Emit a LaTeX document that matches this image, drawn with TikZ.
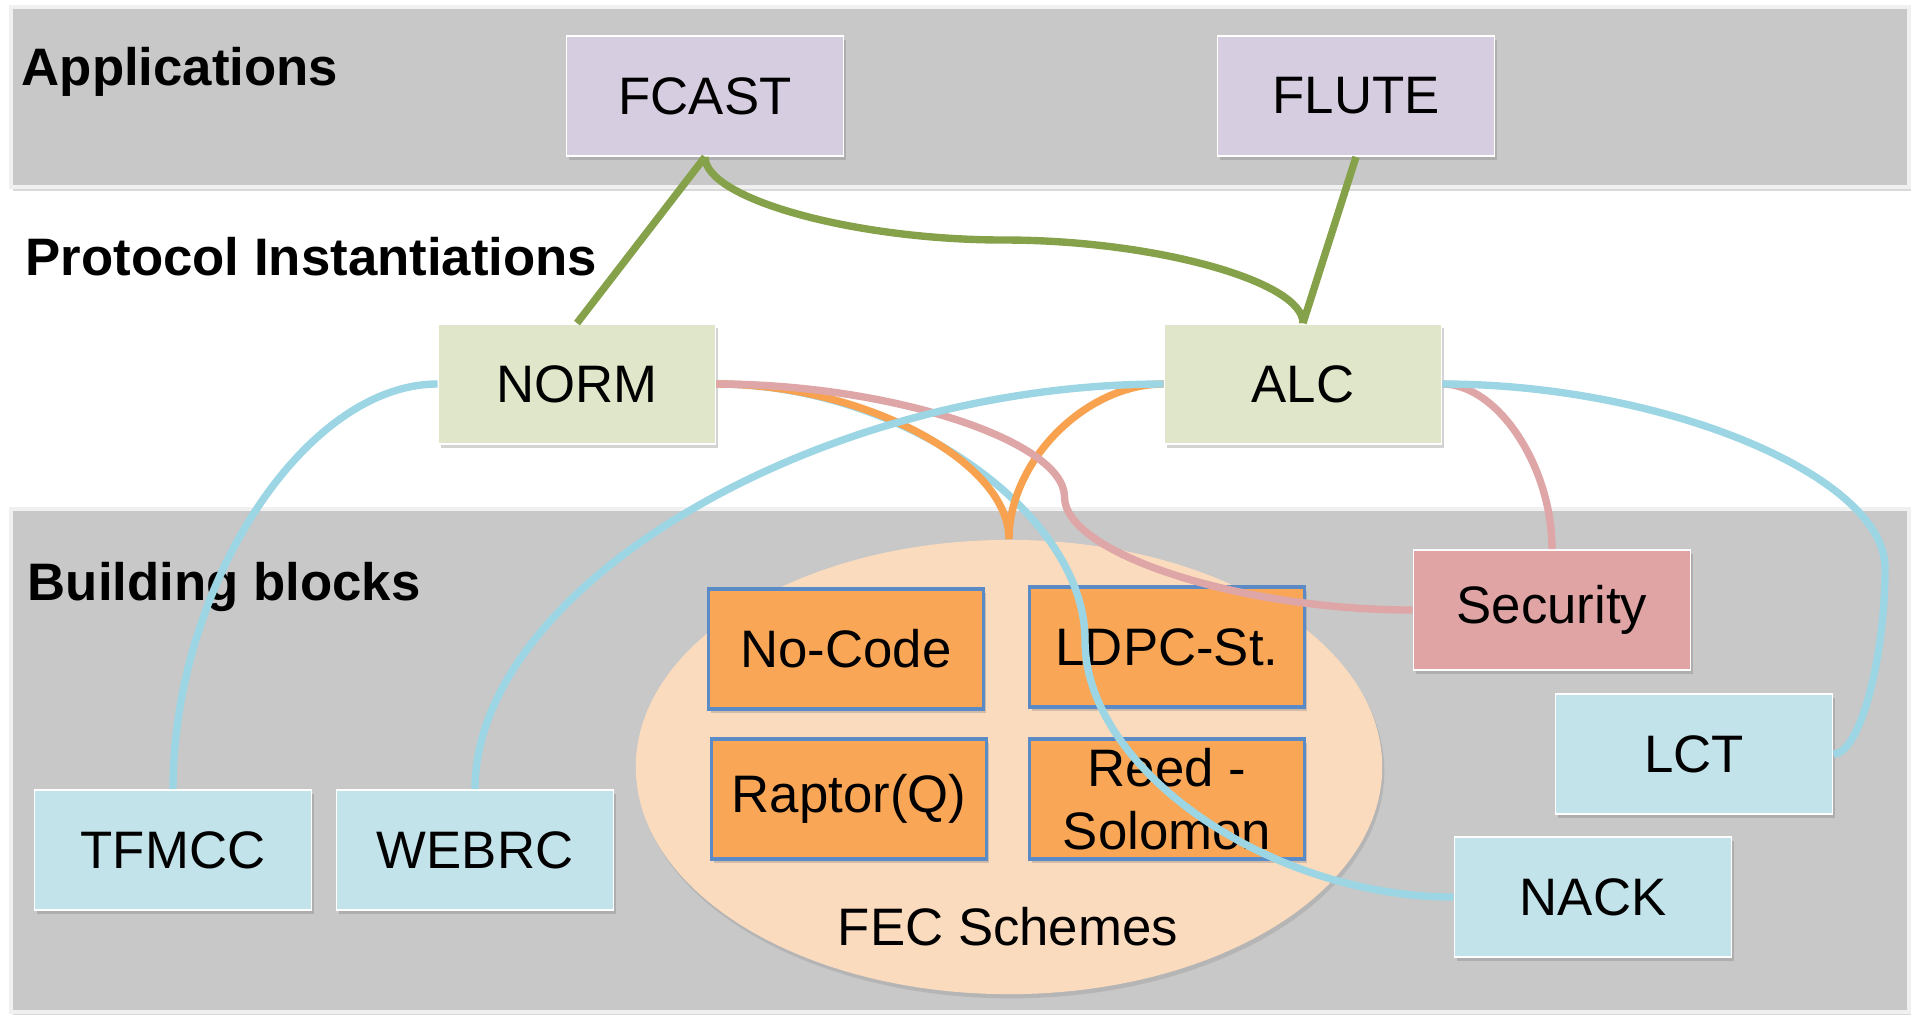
\documentclass[tikz,border=0pt]{standalone}
\usepackage{fontspec}
\setmainfont{Liberation Sans}
\usetikzlibrary{calc,shapes.geometric,shadows}
\definecolor{bandgray}{HTML}{C8C8C8}
\definecolor{appfill}{HTML}{D6CDE1}
\definecolor{protofill}{HTML}{DFE6C9}
\definecolor{secfill}{HTML}{E0A4A4}
\definecolor{blockfill}{HTML}{C3E3EB}
\definecolor{fecfill}{HTML}{F9A657}
\definecolor{fecedge}{HTML}{5B8BC6}
\definecolor{ovalfill}{HTML}{FBDBBE}
\definecolor{greenline}{HTML}{85A14A}
\definecolor{blueline}{HTML}{9CD5E3}
\definecolor{pinkline}{HTML}{DEA6A6}
\definecolor{orangeline}{HTML}{F8A24F}
\tikzset{
	band/.style={fill=bandgray, draw=black!6, line width=1pt, drop shadow={shadow xshift=0.6pt, shadow yshift=-1.2pt, opacity=0.3}},
	box/.style={rectangle, minimum width=2.77cm, minimum height=1.2cm, inner sep=0pt, align=center, draw=white, line width=0.5pt, font=\fontsize{15}{18}\selectfont, drop shadow={shadow xshift=0.6pt, shadow yshift=-1.2pt, opacity=0.35}},
	appbox/.style={box, fill=appfill},
	protobox/.style={box, fill=protofill},
	secbox/.style={box, fill=secfill},
	blockbox/.style={box, fill=blockfill},
	fecbox/.style={box, fill=fecfill, draw=fecedge, line width=0.9pt, minimum width=2.75cm},
	oval/.style={ellipse, minimum width=7.46cm, minimum height=4.54cm, inner sep=0pt, fill=ovalfill, drop shadow={shadow xshift=0.6pt, shadow yshift=-1.2pt, opacity=0.25}},
	header/.style={anchor=base west, inner sep=0pt, font=\fontsize{15}{18}\selectfont\bfseries},
	wire/.style={line width=2.1pt},
	greenwire/.style={wire, draw=greenline},
	bluewire/.style={wire, draw=blueline},
	pinkwire/.style={wire, draw=pinkline},
	orangewire/.style={wire, draw=orangeline}
}
\begin{document}
\begin{tikzpicture}[x=0.01cm, y=-0.01cm]
	%%%%% START %%%%%
	\useasboundingbox (0,0) rectangle (1913,1014);
	
	\draw[band] (11,7) rectangle (1909,187);
	\draw[band] (11,509) rectangle (1909,1012);
	
	\node[header] (apphead) at (21,85) {Applications};
	\node[header] (protohead) at (25,275) {Protocol Instantiations};
	\node[header] (blockhead) at (27,600) {Building blocks};
	
	\node[appbox] (fcast) at (705,96) {FCAST};
	\node[appbox] (flute) at (1356,96) {FLUTE};
	
	\node[protobox] (norm) at (577,384) {NORM};
	\node[protobox] (alc) at (1303,384) {ALC};
	
	\node[secbox] (security) at (1552,610) {Security};
	\node[blockbox] (lct) at (1694,754) {LCT};
	\node[blockbox] (nack) at (1593,897) {NACK};
	\node[blockbox] (tfmcc) at (173,850) {TFMCC};
	\node[blockbox] (webrc) at (475,850) {WEBRC};
	
	\node[oval] (fec) at (1009,767) {};
	\node[fecbox] (nocode) at (846,649) {No-Code};
	\node[fecbox] (ldpc) at (1167,647) {LDPC-St.};
	\node[fecbox] (raptor) at (849,799) {Raptor(Q)};
	\node[fecbox] (reed) at (1167,799) {Reed -\\Solomon};
	\node[font=\fontsize{15}{18}\selectfont] (feclabel) at (1008,927) {FEC Schemes};
	
	% connectors
	\coordinate (nackbend) at ($(norm.east)!0.5!(nack.west)$);
	\draw[bluewire] (norm.east) .. controls +(185,0) and +(0,-128) .. (nackbend) .. controls +(0,128) and +(-185,0) .. (nack.west);
	
	\draw[orangewire] (norm.east) .. controls +(147,0) and +(0,-78) .. (fec.north);
	\draw[orangewire] (alc.west) .. controls +(-78,0) and +(0,-78) .. (fec.north);
	
	\coordinate (secbend) at ($(norm.east)!0.5!(security.west)$);
	\draw[pinkwire] (norm.east) .. controls +(174,0) and +(0,-56) .. (secbend) .. controls +(0,56) and +(-174,0) .. (security.west);
	\draw[pinkwire] (alc.east) .. controls +(55,0) and +(0,-83) .. (security.north);
	
	\draw[bluewire] (norm.west) .. controls +(-133,0) and +(0,-202) .. (tfmcc.north);
	\draw[bluewire] (webrc.north) .. controls +(0,-203) and +(-345,0) .. (alc.west);
	\coordinate (lctbend) at (1885,568);
	\draw[bluewire] (alc.east) .. controls +(221,0) and +(0,-92) .. (lctbend) .. controls +(0,92) and +(26,0) .. (lct.east);
	
	\draw[greenwire] (fcast.south) -- (norm.north);
	\draw[greenwire] (flute.south) -- (alc.north);
	\coordinate (fcastbend) at ($(fcast.south)!0.5!(alc.north)$);
	\draw[greenwire] (fcast.south) .. controls +(0,42) and +(-150,0) .. (fcastbend) .. controls +(150,0) and +(0,-42) .. (alc.north);
	
	%%%%% END %%%%%
\end{tikzpicture}
\end{document}
